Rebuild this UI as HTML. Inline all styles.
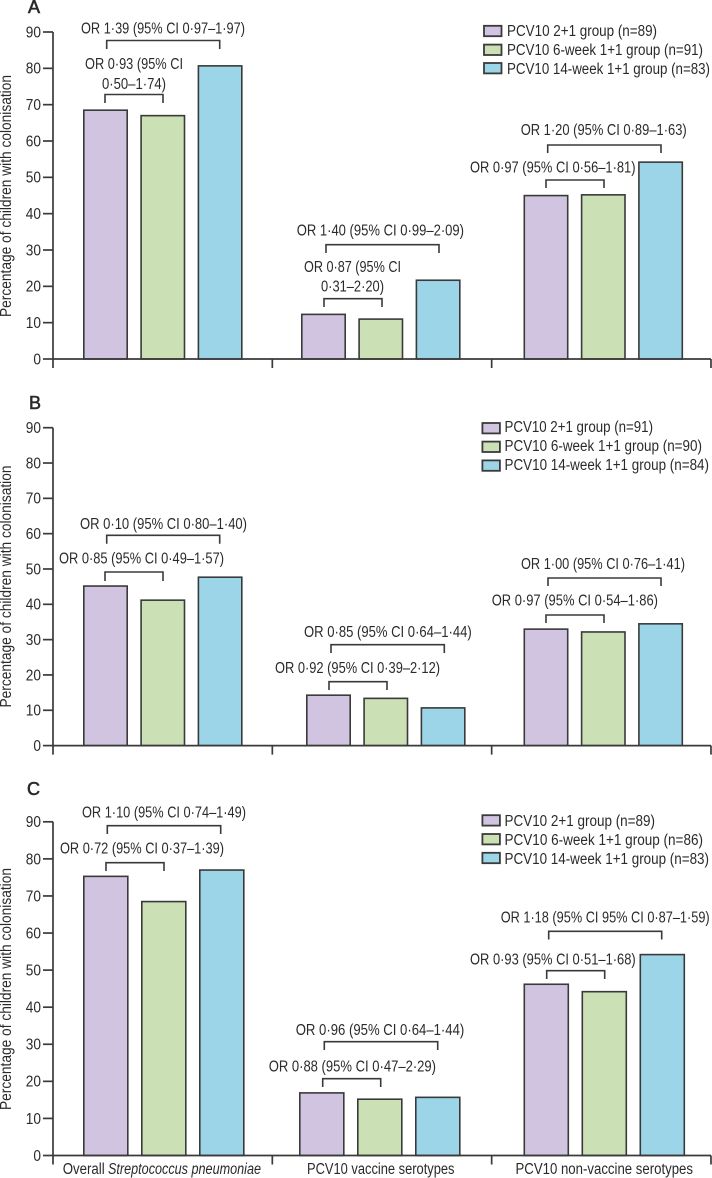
<!DOCTYPE html>
<html lang="en">
<head>
<meta charset="utf-8">
<title>Percentage of children with colonisation by PCV10 schedule</title>
<style>
  html, body { margin: 0; padding: 0; background: #fff; }
  svg { display: block; }
  text { font-family: "Liberation Sans", sans-serif; font-size: 15.5px; fill: #2a2a2a; }
  .letter { font-size: 18px; stroke: #2a2a2a; stroke-width: .6px; }
  .br { fill: none; stroke: #3a3a3a; stroke-width: 1.6; }
  .sw { stroke: #3a3a3a; stroke-width: 1.8; }
  .purple { fill: #d1c4e1; }
  .green { fill: #cbe0b4; }
  .blue { fill: #9cd5e8; }
</style>
</head>
<body>
<svg id="chart" xmlns="http://www.w3.org/2000/svg" width="712" height="1178" viewBox="0 0 712 1178">
  <g id="marks"></g>

  <!-- Panel A -->
  <g>
    <text class="letter" x="28" y="13">A</text>
    <text transform="translate(11 317) rotate(-90)" textLength="242" lengthAdjust="spacingAndGlyphs">Percentage of children with colonisation</text>

    <rect class="sw purple" x="484" y="25.8" width="17.5" height="10.4"/>
    <rect class="sw green" x="484" y="44.6" width="17.5" height="10.4"/>
    <rect class="sw blue" x="484" y="63" width="17.5" height="10.4"/>
    <text x="507" y="36" textLength="150" lengthAdjust="spacingAndGlyphs">PCV10 2+1 group (n=89)</text>
    <text x="507" y="55" textLength="196" lengthAdjust="spacingAndGlyphs">PCV10 6-week 1+1 group (n=91)</text>
    <text x="507" y="74" textLength="203" lengthAdjust="spacingAndGlyphs">PCV10 14-week 1+1 group (n=83)</text>

    <text x="81" y="33.5" textLength="164" lengthAdjust="spacingAndGlyphs">OR 1·39 (95% CI 0·97–1·97)</text>
    <path class="br" d="M106.7 49V40.5H219.7V49"/>
    <text x="85" y="69" textLength="98" lengthAdjust="spacingAndGlyphs">OR 0·93 (95% CI</text>
    <text x="102" y="89" textLength="64" lengthAdjust="spacingAndGlyphs">0·50–1·74)</text>
    <path class="br" d="M105 103V94.5H163V103"/>

    <text x="296.7" y="235.7" textLength="167.3" lengthAdjust="spacingAndGlyphs">OR 1·40 (95% CI 0·99–2·09)</text>
    <path class="br" d="M326 253V244.7H439V253"/>
    <text x="304" y="272" textLength="97" lengthAdjust="spacingAndGlyphs">OR 0·87 (95% CI</text>
    <text x="321" y="291.7" textLength="63" lengthAdjust="spacingAndGlyphs">0·31–2·20)</text>
    <path class="br" d="M324 307V298.7H382V307"/>

    <text x="520.7" y="135" textLength="166" lengthAdjust="spacingAndGlyphs">OR 1·20 (95% CI 0·89–1·63)</text>
    <path class="br" d="M547.7 153V145H661V153"/>
    <text x="470" y="172.3" textLength="165.5" lengthAdjust="spacingAndGlyphs">OR 0·97 (95% CI 0·56–1·81)</text>
    <path class="br" d="M546 188V180H604V188"/>
  </g>

  <!-- Panel B -->
  <g>
    <text class="letter" x="29" y="409">B</text>
    <text transform="translate(11 707.5) rotate(-90)" textLength="242" lengthAdjust="spacingAndGlyphs">Percentage of children with colonisation</text>

    <rect class="sw purple" x="482.4" y="423" width="17.5" height="10.4"/>
    <rect class="sw green" x="482.4" y="441.6" width="17.5" height="10.4"/>
    <rect class="sw blue" x="482.4" y="460.4" width="17.5" height="10.4"/>
    <text x="504.5" y="432" textLength="148.5" lengthAdjust="spacingAndGlyphs">PCV10 2+1 group (n=91)</text>
    <text x="504.5" y="451" textLength="197.5" lengthAdjust="spacingAndGlyphs">PCV10 6-week 1+1 group (n=90)</text>
    <text x="504.5" y="470" textLength="204.5" lengthAdjust="spacingAndGlyphs">PCV10 14-week 1+1 group (n=84)</text>

    <text x="80" y="529" textLength="167" lengthAdjust="spacingAndGlyphs">OR 0·10 (95% CI 0·80–1·40)</text>
    <path class="br" d="M106.7 543.7V535.3H219.7V543.7"/>
    <text x="59" y="563.5" textLength="165" lengthAdjust="spacingAndGlyphs">OR 0·85 (95% CI 0·49–1·57)</text>
    <path class="br" d="M105 581V572H163V581"/>

    <text x="304" y="637" textLength="167.7" lengthAdjust="spacingAndGlyphs">OR 0·85 (95% CI 0·64–1·44)</text>
    <path class="br" d="M331 653V644.7H444.3V653"/>
    <text x="275" y="673" textLength="165" lengthAdjust="spacingAndGlyphs">OR 0·92 (95% CI 0·39–2·12)</text>
    <path class="br" d="M329 690V681.7H387V690"/>

    <text x="521" y="569" textLength="164" lengthAdjust="spacingAndGlyphs">OR 1·00 (95% CI 0·76–1·41)</text>
    <path class="br" d="M548 586V578H661V586"/>
    <text x="491.7" y="605.7" textLength="166.3" lengthAdjust="spacingAndGlyphs">OR 0·97 (95% CI 0·54–1·86)</text>
    <path class="br" d="M546 623V615H604V623"/>
  </g>

  <!-- Panel C -->
  <g>
    <text class="letter" x="27" y="795">C</text>
    <text transform="translate(11 1110) rotate(-90)" textLength="242" lengthAdjust="spacingAndGlyphs">Percentage of children with colonisation</text>

    <rect class="sw purple" x="482.4" y="815.2" width="17.5" height="10.4"/>
    <rect class="sw green" x="482.4" y="834" width="17.5" height="10.4"/>
    <rect class="sw blue" x="482.4" y="852.8" width="17.5" height="10.4"/>
    <text x="504.5" y="826" textLength="150.5" lengthAdjust="spacingAndGlyphs">PCV10 2+1 group (n=89)</text>
    <text x="504.5" y="845" textLength="198.5" lengthAdjust="spacingAndGlyphs">PCV10 6-week 1+1 group (n=86)</text>
    <text x="504.5" y="864" textLength="204.5" lengthAdjust="spacingAndGlyphs">PCV10 14-week 1+1 group (n=83)</text>

    <text x="82" y="817.7" textLength="164" lengthAdjust="spacingAndGlyphs">OR 1·10 (95% CI 0·74–1·49)</text>
    <path class="br" d="M107.3 834V825.7H220.7V834"/>
    <text x="60" y="853.3" textLength="164" lengthAdjust="spacingAndGlyphs">OR 0·72 (95% CI 0·37–1·39)</text>
    <path class="br" d="M106 871V862.7H164V871"/>

    <text x="295.7" y="1035" textLength="168.6" lengthAdjust="spacingAndGlyphs">OR 0·96 (95% CI 0·64–1·44)</text>
    <path class="br" d="M324.3 1050V1041.7H437.7V1050"/>
    <text x="268.7" y="1071.7" textLength="167.3" lengthAdjust="spacingAndGlyphs">OR 0·88 (95% CI 0·47–2·29)</text>
    <path class="br" d="M322.7 1087V1078.7H380.7V1087"/>

    <text x="500.7" y="922.7" textLength="209" lengthAdjust="spacingAndGlyphs">OR 1·18 (95% CI 95% CI 0·87–1·59)</text>
    <path class="br" d="M548.7 939.5V931.3H661.7V939.5"/>
    <text x="470" y="964.3" textLength="165.7" lengthAdjust="spacingAndGlyphs">OR 0·93 (95% CI 0·51–1·68)</text>
    <path class="br" d="M546.7 979V970.7H604.7V979"/>

    <text x="62.7" y="1174" textLength="42" lengthAdjust="spacingAndGlyphs">Overall</text>
    <text x="108" y="1174" textLength="153" lengthAdjust="spacingAndGlyphs" font-style="italic">Streptococcus pneumoniae</text>
    <text x="307" y="1174" textLength="147.5" lengthAdjust="spacingAndGlyphs">PCV10 vaccine serotypes</text>
    <text x="515.5" y="1174" textLength="177.5" lengthAdjust="spacingAndGlyphs">PCV10 non-vaccine serotypes</text>
  </g>
</svg>

<script>
// Data: percentage per category, one array per group and panel.
const categories = ['overall', 'vaccine-serotypes', 'non-vaccine-serotypes'];
const seriesKeys = ['2p1', '6wk', '14wk'];
const yTickLabels = [0, 10, 20, 30, 40, 50, 60, 70, 80, 90];

const panelA2p1 = [68.7, 12.5, 45.2];
const panelA6wk = [67.2, 11.2, 45.4];
const panelA14wk = [80.9, 21.9, 54.4];

const panelB2p1 = [45.4, 14.5, 33.2];
const panelB6wk = [41.4, 13.6, 32.4];
const panelB14wk = [47.9, 10.9, 34.7];

const panelC2p1 = [75.5, 17.1, 46.4];
const panelC6wk = [68.7, 15.4, 44.4];
const panelC14wk = [77.2, 15.9, 54.4];

const SVG_NS = 'http://www.w3.org/2000/svg';
const INK = '#3a3a3a';
const marks = document.getElementById('marks');

function make(tag, attrs, name) {
  const el = document.createElementNS(SVG_NS, tag);
  for (const k in attrs) el.setAttribute(k, attrs[k]);
  
  
  marks.appendChild(el);
  return el;
}

function drawPanel(id, series, y0, y90, middleShift, step, barWidth) {
  const axisMax = yTickLabels[yTickLabels.length - 1];
  const yScale = v => y0 - (v / axisMax) * (y0 - y90);
  const xBar = (g, s) => 83 + g * 220.25 + (g === 1 ? middleShift : 0) + s * step;
  const classes = ['purple', 'green', 'blue'];

  series.forEach((values, s) => {
    values.forEach((v, g) => {
      const top = yScale(v);
      make('rect', {
        x: xBar(g, s) + 0.8,
        y: top + 0.8,
        width: barWidth - 1.6,
        height: y0 - top - 0.8,
        'class': classes[s],
        stroke: INK,
        'stroke-width': 1.6
      }, 'bar-' + id + '-' + categories[g] + '-' + seriesKeys[s]);
    });
  });

  const axisStyle = { stroke: INK, 'stroke-width': 1.7, fill: 'none' };
  make('line', Object.assign({ x1: 53, x2: 53, y1: y90, y2: y0 + 9 }, axisStyle), 'panel-' + id + '-y-axis');
  make('line', Object.assign({ x1: 53, x2: 711, y1: y0, y2: y0 }, axisStyle), 'panel-' + id + '-x-axis');

  yTickLabels.forEach(t => {
    const y = yScale(t);
    make('line', Object.assign({ x1: 43, x2: 53, y1: y, y2: y }, axisStyle), 'panel-' + id + '-y-tick-' + t);
    const label = make('text', { x: 41, y: y + 5.4, 'text-anchor': 'end', textLength: String(t).length * 7.6, lengthAdjust: 'spacingAndGlyphs' }, 'panel-' + id + '-y-tick-label-' + t);
    label.textContent = String(t);
  });

  categories.forEach((c, g) => {
    const x = 53 + (g + 1) * 219.33;
    make('line', Object.assign({ x1: x, x2: x, y1: y0, y2: y0 + 9 }, axisStyle), 'panel-' + id + '-x-tick-' + c);
  });
}

drawPanel('a', [panelA2p1, panelA6wk, panelA14wk], 359, 32, -2.25, 57.3, 45);
drawPanel('b', [panelB2p1, panelB6wk, panelB14wk], 745.6, 427.7, 2.75, 57.3, 45);
drawPanel('c', [panelC2p1, panelC6wk, panelC14wk], 1155.5, 821.8, -4.25, 58, 45.6);
</script>
</body>
</html>
